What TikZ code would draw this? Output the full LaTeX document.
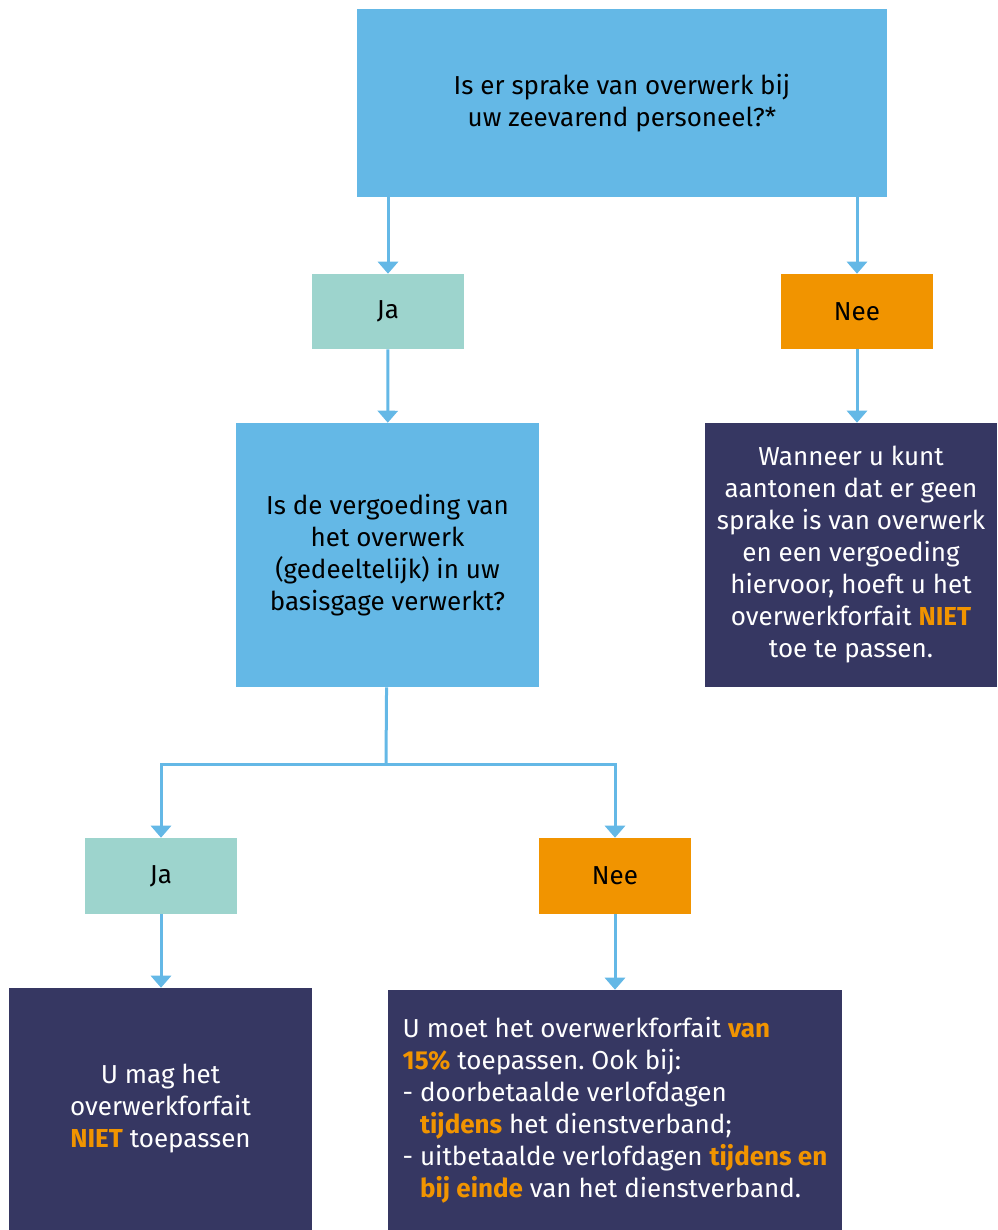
\documentclass[tikz,border=0pt]{standalone}
\usepackage{fontspec}
\setmainfont{Fira Sans}
\usetikzlibrary{arrows.meta,positioning}
\definecolor{vraagblauw}{RGB}{100,184,230}
\definecolor{jagroen}{RGB}{157,212,205}
\definecolor{neeoranje}{RGB}{241,148,0}
\definecolor{infoblauw}{RGB}{54,55,98}
\newcommand\nadruk[1]{\textbf{\color{neeoranje}#1}}
\frenchspacing

\begin{document}
\begin{tikzpicture}[x=0.75pt,y=-0.75pt,
	font=\fontsize{19.5}{24}\selectfont,
	doos/.style 2 args={inner sep=0pt,align=center,minimum width={#1*0.75pt},minimum height={#2*0.75pt}},
	vraag/.style={fill=vraagblauw,text=black},
	ja/.style={fill=jagroen,text=black},
	nee/.style={fill=neeoranje,text=black},
	info/.style={fill=infoblauw,text=white},
	pijl/.style={draw=vraagblauw,line width=2.25pt,-{Triangle[width=15pt,length=9pt]}}]
	\useasboundingbox (0,0) rectangle (997,1230);
	% vragen
	\node[vraag,doos={530}{188}] (q1) at (622,103) {Is er sprake van overwerk bij\\uw zeevarend personeel?*};
	\node[ja,doos={152}{75}] (ja1) at (388,311.5) {Ja};
	\node[nee,doos={152}{75}] (nee1) at (857,311.5) {Nee};
	\node[vraag,doos={303}{264}] (q2) at (387.5,555) {Is de vergoeding van\\het overwerk\\(gedeeltelijk) in uw\\basisgage verwerkt?};
	\node[info,doos={292}{264}] (info1) at (851,555) {Wanneer u kunt\\aantonen dat er geen\\sprake is van overwerk\\en een vergoeding\\hiervoor, hoeft u het\\overwerkforfait \nadruk{NIET}\\toe te passen.};
	\node[ja,doos={152}{76}] (ja2) at (161,876) {Ja};
	\node[nee,doos={152}{76}] (nee2) at (615,876) {Nee};
	\node[info,doos={303}{242}] (info2) at (160.5,1109) {U mag het\\overwerkforfait\\\nadruk{NIET} toepassen};
	\node[info,doos={454}{240},align=left] (info3) at (615,1110) {U moet het overwerkforfait \nadruk{van}\\\nadruk{15\%} toepassen. Ook bij:\\- doorbetaalde verlofdagen\\\hphantom{- }\nadruk{tijdens} het dienstverband;\\- uitbetaalde verlofdagen \nadruk{tijdens en}\\\hphantom{- }\nadruk{bij einde} van het dienstverband.};
	\coordinate (splits) at (386,764);
	% pijlen
	\draw[pijl] (q1.south -| ja1) -- (ja1);
	\draw[pijl] (q1.south -| nee1) -- (nee1);
	\draw[pijl] (ja1) -- (q2);
	\draw[pijl] (nee1) -- (nee1 |- info1.north);
	\draw[draw=vraagblauw,line width=2.25pt] (q2) -- (splits);
	\draw[pijl] (splits) -| (ja2);
	\draw[pijl] (splits) -| (nee2);
	\draw[pijl] (ja2) -- (ja2 |- info2.north);
	\draw[pijl] (nee2) -- (nee2 |- info3.north);
\end{tikzpicture}
\end{document}
